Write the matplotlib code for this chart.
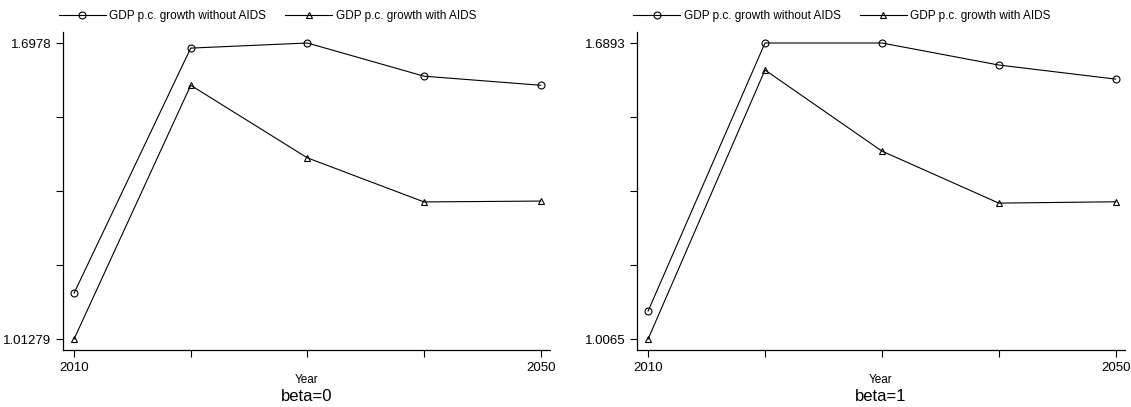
import numpy as np
import matplotlib
matplotlib.use("Agg")
import matplotlib.pyplot as plt

plt.rcParams['font.family'] = ['Liberation Sans', 'DejaVu Sans']

years = [2010, 2020, 2030, 2040, 2050]

# beta=0 panel
no_aids_b0 = [1.119, 1.686, 1.6978, 1.621, 1.600]
aids_b0 = [1.01279, 1.600, 1.432, 1.330, 1.332]
yticks_b0 = [1.01279, 1.6978]

# beta=1 panel
no_aids_b1 = [1.071, 1.6893, 1.6893, 1.6385, 1.606]
aids_b1 = [1.0065, 1.627, 1.440, 1.320, 1.323]
yticks_b1 = [1.0065, 1.6893]

titles = ["beta=0", "beta=1"]

W, H = 1131, 407


def panel(rect, s1, s2, ylab, title):
    ax = fig.add_axes(rect)
    l1, = ax.plot(years, s1, color="black", lw=0.8, marker="o", ms=5,
                  mfc="none", mec="black", mew=0.8)
    l2, = ax.plot(years, s2, color="black", lw=0.8, marker="^", ms=5,
                  mfc="none", mec="black", mew=0.8)
    lo, hi = ylab
    step = (hi - lo) / 4
    pad = (hi - lo) * 11 / 296
    ax.set_ylim(lo - pad, hi + pad)
    ax.set_xlim(2009.05, 2050.8)
    ax.set_yticks([lo + i * step for i in range(5)])
    ax.set_yticklabels([("%g" % lo)] + [""] * 3 + [("%g" % hi)])
    ax.set_xticks(years)
    ax.set_xticklabels(["2010", "", "", "", "2050"])
    ax.tick_params(direction="out", length=5, width=0.8, labelsize=9.5,
                   color="black")
    for s in ["top", "right"]:
        ax.spines[s].set_visible(False)
    for s in ["left", "bottom"]:
        ax.spines[s].set_linewidth(0.9)
    ax.set_xlabel("Year", fontsize=8.5, labelpad=0)
    ax.text(0.5, -0.122, title, transform=ax.transAxes, ha="center",
            va="top", fontsize=12)
    ax.legend([l1, l2], ["GDP p.c. growth without AIDS",
                         "GDP p.c. growth with AIDS"],
              loc="lower center", bbox_to_anchor=(0.42, 1.01), ncol=2,
              frameon=False, fontsize=8.5, handlelength=4, numpoints=1,
              columnspacing=1.6, handletextpad=0.3, borderaxespad=0.2)
    return ax


fig = plt.figure(figsize=(W / 100, H / 100), dpi=100)
bottom = (H - 350) / H
height = (350 - 32) / H
panel([63 / W, bottom, (550 - 63) / W, height], no_aids_b0, aids_b0,
      yticks_b0, titles[0])
panel([637 / W, bottom, (1125 - 637) / W, height], no_aids_b1, aids_b1,
      yticks_b1, titles[1])

fig.savefig("out.png", dpi=100)
